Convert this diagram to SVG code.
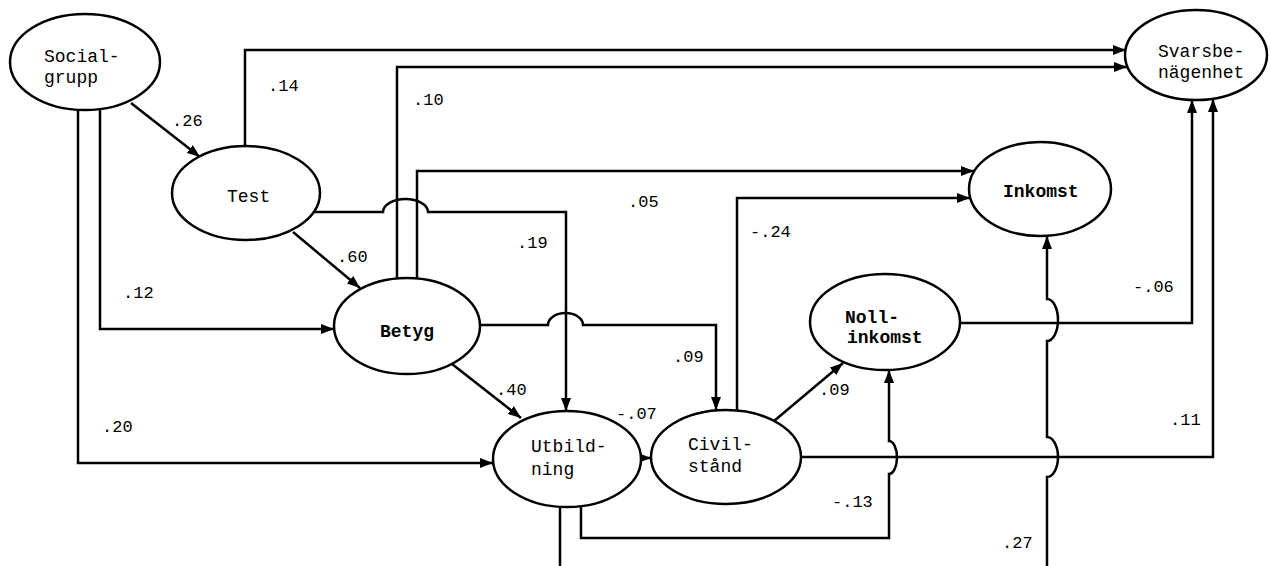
<svg xmlns="http://www.w3.org/2000/svg" width="1270" height="566" viewBox="0 0 1270 566">
<defs>
<style>
.n ellipse{fill:#fff;stroke:#000;stroke-width:2.5}
.n text{font-family:"Liberation Mono","DejaVu Sans Mono",monospace;font-size:18px;fill:#000}
.b text{font-weight:bold}
.c path{fill:none;stroke:#000;stroke-width:2.5}
.c path.a{marker-end:url(#ah)}
.l text{font-family:"Liberation Mono","DejaVu Sans Mono",monospace;font-size:17px;fill:#000}
</style>
<marker id="ah" viewBox="0 0 13 10" refX="13" refY="5" markerWidth="13" markerHeight="10" markerUnits="userSpaceOnUse" orient="auto">
<path d="M0,0 L13,5 L0,10 z" fill="#000"/>
</marker>
</defs>
<rect width="1270" height="566" fill="#fff"/>
<g class="c" id="connectors">
<path class="a" d="M131,103 L200,157"/>
<path class="a" d="M245,146 V50 H1126"/>
<path class="a" d="M397,278 V67 H1127"/>
<path class="a" d="M417,279 V171 H974"/>
<path class="a" d="M314,212 H383 a22.5 13 0 0 1 45 0 H566 V411"/>
<path class="a" d="M480,325 H548 a17.5 12 0 0 1 35 0 H716 V410"/>
<path class="a" d="M100,109 V329 H334"/>
<path class="a" d="M78,110 V463 H493"/>
<path class="a" d="M293,232 L360,288"/>
<path class="a" d="M452,364 L521,418"/>
<path class="a" d="M640,458 L651,458"/>
<path class="a" d="M774,421 L843,363"/>
<path class="a" d="M737,410 V198 H970"/>
<path class="a" d="M960,323 H1192 V100"/>
<path class="a" d="M802,457 H1213 V99"/>
<path class="a" d="M581,506 V538 H889 V474 a8 16.5 0 0 0 0 -33 V370"/>
<path d="M560,507 V566"/>
<path class="a" d="M1047,566 V477 a11 20 0 0 0 0 -40 V341 a11 21 0 0 0 0 -42 V236"/>
</g>
<g class="l" id="labels">
<text x="172" y="126">.26</text>
<text x="268" y="91">.14</text>
<text x="413" y="105">.10</text>
<text x="337" y="262">.60</text>
<text x="517" y="248">.19</text>
<text x="628" y="207">.05</text>
<text x="123" y="298">.12</text>
<text x="102" y="432">.20</text>
<text x="496" y="395">.40</text>
<text x="673" y="362">.09</text>
<text x="616" y="419">-.07</text>
<text x="750" y="237">-.24</text>
<text x="819" y="395">.09</text>
<text x="1133" y="292">-.06</text>
<text x="1170" y="425">.11</text>
<text x="832" y="507">-.13</text>
<text x="1002" y="548">.27</text>
</g>
<g class="n" id="socialgrupp"><ellipse cx="85" cy="62" rx="75" ry="48"/><text x="44" y="62">Social-</text><text x="44" y="83">grupp</text></g>
<g class="n" id="test"><ellipse cx="246" cy="193" rx="74" ry="47"/><text x="227" y="202">Test</text></g>
<g class="n b" id="betyg"><ellipse cx="407" cy="326" rx="73" ry="48"/><text x="380" y="337">Betyg</text></g>
<g class="n" id="utbildning"><ellipse cx="567" cy="459" rx="74" ry="48"/><text x="531" y="452">Utbild-</text><text x="531" y="475">ning</text></g>
<g class="n" id="civilstand"><ellipse cx="726" cy="457" rx="75" ry="47"/><text x="688" y="450">Civil-</text><text x="688" y="472">stånd</text></g>
<g class="n b" id="nollinkomst"><ellipse cx="885" cy="322" rx="75" ry="48"/><text x="845" y="323">Noll-</text><text x="847" y="343">inkomst</text></g>
<g class="n b" id="inkomst"><ellipse cx="1040" cy="189" rx="71" ry="47"/><text x="1003" y="197">Inkomst</text></g>
<g class="n" id="svarsbenagenhet"><ellipse cx="1196" cy="55" rx="71" ry="45"/><text x="1158" y="57">Svarsbe-</text><text x="1158" y="78">nägenhet</text></g>
</svg>
